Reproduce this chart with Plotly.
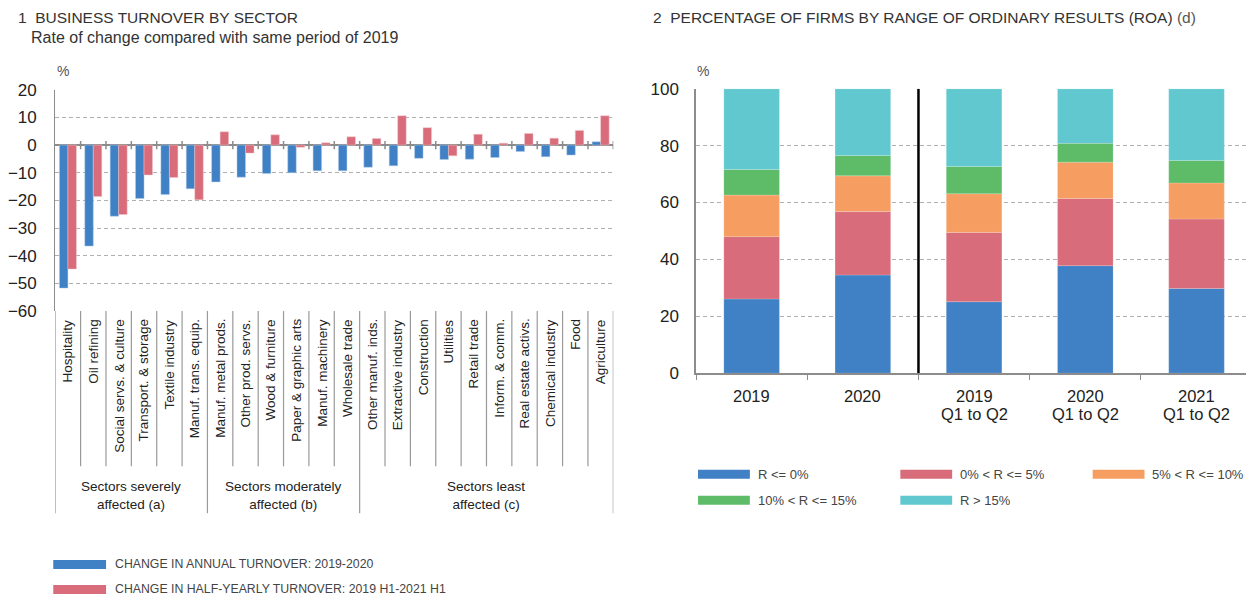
import plotly.graph_objects as go

# ---------------- data ----------------
sectors = ["Hospitality", "Oil refining", "Social servs. & culture", "Transport. & storage",
           "Textile industry", "Manuf. trans. equip.", "Manuf. metal prods.", "Other prod. servs.",
           "Wood & furniture", "Paper & graphic arts", "Manuf. machinery", "Wholesale trade",
           "Other manuf. inds.", "Extractive industry", "Construction", "Utilities",
           "Retail trade", "Inform. & comm.", "Real estate activs.", "Chemical industry",
           "Food", "Agriculture"]
annual_change = [-51.7, -36.5, -25.7, -19.3, -17.9, -15.8, -13.3, -11.6, -10.3, -10.0, -9.3,
                 -9.3, -8.0, -7.5, -4.8, -5.2, -5.1, -4.5, -2.3, -4.2, -3.6, 1.2]
halfyear_change = [-44.8, -18.6, -25.1, -10.8, -11.7, -19.8, 4.8, -2.9, 3.7, -0.8, 0.8,
                   3.0, 2.4, 10.6, 6.3, -3.9, 3.9, 0.7, 4.2, 2.5, 5.3, 10.6]
groups = ["Sectors severely<br>affected (a)", "Sectors moderately<br>affected (b)",
          "Sectors least<br>affected (c)"]
group_sizes = [6, 6, 10]

periods = ["2019", "2020", "2019<br>Q1 to Q2", "2020<br>Q1 to Q2", "2021<br>Q1 to Q2"]
roa_ranges = ["R <= 0%", "0% < R <= 5%", "5% < R <= 10%", "10% < R <= 15%", "R > 15%"]
roa_le0 = [26.1, 34.5, 25.1, 37.8, 29.8]
roa_0_5 = [21.9, 22.3, 24.4, 23.6, 24.4]
roa_5_10 = [14.6, 12.6, 13.6, 12.8, 12.7]
roa_10_15 = [9.0, 7.1, 9.6, 6.6, 7.9]
roa_gt15 = [28.4, 23.5, 27.3, 19.2, 25.2]

left_legend = ["CHANGE IN ANNUAL TURNOVER: 2019-2020",
               "CHANGE IN HALF-YEARLY TURNOVER: 2019 H1-2021 H1"]

# ---------------- styles ----------------
BLUE, RED, ORANGE, GREEN, CYAN = "#4080C4", "#D86C7A", "#F69E62", "#5EBC68", "#62C8D0"
roa_colors = [BLUE, RED, ORANGE, GREEN, CYAN]
FONT = "Liberation Sans, Arial, Helvetica, sans-serif"
TXT = "#222222"
GRID = "#b0b0b0"
AXIS = "#8c8c8c"
DASH = "4px,3px"

# layout positions (target screen pixels -> paper coordinates)
FW, FH = 1246, 600
OFFX, OFFY = 9.5, 8.0
SX, BX = 0.997, 3.15
SY, BY = 0.967, 8.6


def px(x):
    f = (x - BX) / SX - OFFX
    return min(1.0, max(0.0, f / FW))


def py(y):
    f = (y - BY) / SY - OFFY
    return min(1.0, max(0.0, 1 - f / FH))


fig = go.Figure()

# left chart bars
fig.add_trace(go.Bar(x=sectors, y=annual_change, marker_color=BLUE, width=0.335, offset=-0.335,
                     xaxis="x", yaxis="y", showlegend=False,
                     marker_line=dict(color="rgba(180,205,235,0.8)", width=0.6)))
fig.add_trace(go.Bar(x=sectors, y=halfyear_change, marker_color=RED, width=0.335, offset=0,
                     xaxis="x", yaxis="y", showlegend=False,
                     marker_line=dict(color="rgba(240,200,205,0.8)", width=0.6)))

# right chart stacked bars
series = [roa_le0, roa_0_5, roa_5_10, roa_10_15, roa_gt15]
base = [0.0] * len(periods)
for name, vals, col in zip(roa_ranges, series, roa_colors):
    fig.add_trace(go.Bar(x=periods, y=vals, base=list(base), name=name, marker_color=col,
                         width=0.5, xaxis="x2", yaxis="y2", showlegend=False,
                         marker_line=dict(color="rgba(255,255,255,0.35)", width=0.5)))
    base = [b + v for b, v in zip(base, vals)]

L0, L1, LT, LB = 52, 612, 89, 310
R0, R1, RT, RB = 695, 1253, 88, 372

fig.update_layout(
    width=FW, height=FH, margin=dict(l=0, r=0, t=0, b=0),
    paper_bgcolor="white", plot_bgcolor="white", barmode="overlay",
    font=dict(family=FONT, color=TXT),
    xaxis=dict(domain=[px(L0), px(L1)], anchor="y", type="category", range=[-0.5, 21.5],
               showticklabels=False, showgrid=False, showline=False, ticks="", zeroline=False),
    yaxis=dict(domain=[py(LB), py(LT)], anchor="x", range=[-60, 20], dtick=10,
               showgrid=True, gridcolor=GRID, griddash=DASH, gridwidth=1,
               zeroline=True, zerolinecolor=AXIS, zerolinewidth=1.5,
               showline=True, linecolor=AXIS, linewidth=1.2, ticks="",
               ticklabelstandoff=14, tickfont=dict(size=17, color=TXT)),
    xaxis2=dict(domain=[px(R0), px(R1)], anchor="y2", type="category", range=[-0.5, 4.5],
                showgrid=False, showline=True, linecolor=AXIS, linewidth=1.5,
                showticklabels=False,
                ticks="outside", tickson="boundaries", ticklen=5, tickcolor=AXIS),
    yaxis2=dict(domain=[py(RB), py(RT)], anchor="x2", range=[0, 100], dtick=20,
                showgrid=True, gridcolor=GRID, griddash=DASH, gridwidth=1, zeroline=False,
                showline=True, linecolor=AXIS, linewidth=1.5, ticks="",
                ticklabelstandoff=12, tickfont=dict(size=17, color=TXT)),
)

shapes = []
ann = []

# zero-line ticks at category boundaries (left)
for k in range(1, len(sectors) + 1):
    shapes.append(dict(type="line", xref="x", yref="y", x0=k - 0.5, x1=k - 0.5, y0=-1.5, y1=1.5,
                       line=dict(color=AXIS, width=1.5)))

# category separators below the plot
group_edges = [0]
for s in group_sizes:
    group_edges.append(group_edges[-1] + s)
for k in range(len(sectors) + 1):
    is_group = k in group_edges
    shapes.append(dict(type="line", xref="x", yref="paper", x0=k - 0.5, x1=k - 0.5,
                       y0=py(512 if is_group else 465), y1=py(LB),
                       line=dict(color="#9a9a9a", width=1.2)))

# category labels
for i, s in enumerate(sectors):
    ann.append(dict(text=s, xref="x", yref="paper", x=i, y=py(LB + 6), textangle=-90,
                    xanchor="center", yanchor="top", showarrow=False,
                    font=dict(size=13.5, color=TXT, family=FONT)))

# group labels
for g, a, b in zip(groups, group_edges[:-1], group_edges[1:]):
    ann.append(dict(text=g, xref="x", yref="paper", x=(a + b - 1) / 2, y=py(494),
                    xanchor="center", yanchor="middle", showarrow=False,
                    font=dict(size=13.5, color=TXT, family=FONT)))

# right chart category labels (tight line spacing)
for i, p in enumerate(periods):
    for j, line in enumerate(p.split("<br>")):
        ann.append(dict(text=line, xref="x2", yref="paper", x=i, y=py(395 + 18 * j),
                        xanchor="center", yanchor="middle", showarrow=False,
                        font=dict(size=16.5, color=TXT, family=FONT)))

# vertical black separator in right chart
shapes.append(dict(type="line", xref="x2", yref="y2", x0=1.5, x1=1.5, y0=0, y1=100,
                   line=dict(color="black", width=2.5)))

# titles
ann += [
    dict(text="1  BUSINESS TURNOVER BY SECTOR", x=px(8), y=py(17), xref="paper", yref="paper",
         xanchor="left", yanchor="middle", showarrow=False, font=dict(size=15.5, color="#333")),
    dict(text="Rate of change compared with same period of 2019", x=px(26), y=py(37),
         xref="paper", yref="paper", xanchor="left", yanchor="middle", showarrow=False,
         font=dict(size=16, color="#333")),
    dict(text="2  PERCENTAGE OF FIRMS BY RANGE OF ORDINARY RESULTS (ROA) <span style='color:#555'>(d)</span>",
         x=px(650), y=py(17), xref="paper", yref="paper",
         xanchor="left", yanchor="middle", showarrow=False, font=dict(size=15.5, color="#333")),
    dict(text="%", x=px(52), y=py(70), xref="paper", yref="paper", xanchor="left",
         yanchor="middle", showarrow=False, font=dict(size=14, color="#555")),
    dict(text="%", x=px(694), y=py(70), xref="paper", yref="paper", xanchor="left",
         yanchor="middle", showarrow=False, font=dict(size=14, color="#555")),
]

# left legend
for i, (lab, col) in enumerate(zip(left_legend, [BLUE, RED])):
    yc = 563 + 25 * i
    shapes.append(dict(type="rect", xref="paper", yref="paper", x0=px(50), x1=px(103),
                       y0=py(yc + 4.5), y1=py(yc - 4.5), fillcolor=col, line=dict(width=0)))
    ann.append(dict(text=lab, x=px(110), y=py(yc), xref="paper", yref="paper", xanchor="left",
                    yanchor="middle", showarrow=False, font=dict(size=12.3, color="#444", family=FONT)))

# right legend
pos = [(697, 473), (900, 473), (1093, 473), (697, 499), (900, 499)]
for (x0, yc), lab, col in zip(pos, roa_ranges, roa_colors):
    shapes.append(dict(type="rect", xref="paper", yref="paper", x0=px(x0), x1=px(x0 + 52),
                       y0=py(yc + 4.5), y1=py(yc - 4.5), fillcolor=col, line=dict(width=0)))
    ann.append(dict(text=lab, x=px(x0 + 58), y=py(yc), xref="paper", yref="paper", xanchor="left",
                    yanchor="middle", showarrow=False, font=dict(size=13, color="#444", family=FONT)))

fig.update_layout(shapes=shapes, annotations=ann)
fig.write_html("out.html")
